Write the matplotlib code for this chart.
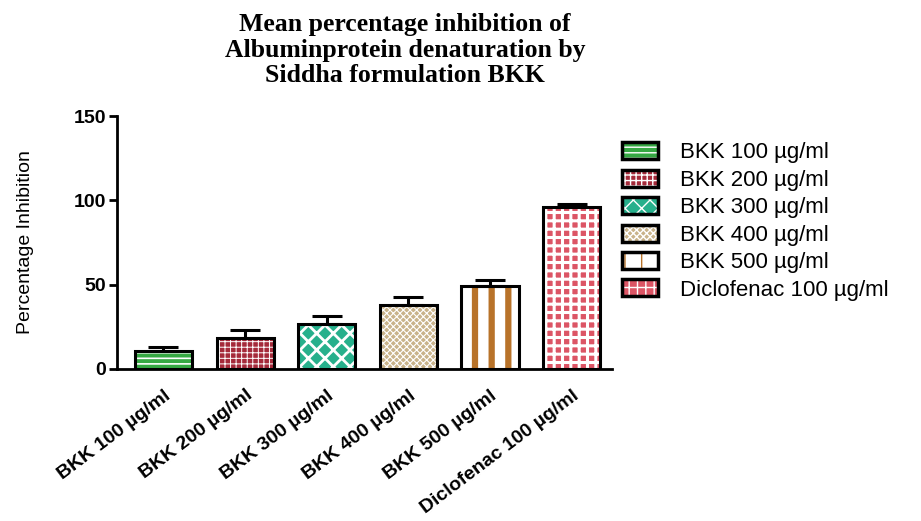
import numpy as np
import matplotlib

matplotlib.use("Agg")
import matplotlib.pyplot as plt
from matplotlib.patches import Rectangle
from matplotlib.legend_handler import HandlerTuple

groups = ["BKK 100 µg/ml", "BKK 200 µg/ml", "BKK 300 µg/ml",
          "BKK 400 µg/ml", "BKK 500 µg/ml", "Diclofenac 100 µg/ml"]
mean_inhibition = [10.7, 18.4, 26.7, 38.0, 49.2, 96.0]
sem_inhibition = [2.3, 4.6, 4.7, 4.7, 3.6, 1.8]
yticks = [0, 50, 100, 150]

# fill colour, hatch colour, hatch pattern, hatch width
styles = [
    ("#36a843", "white", "---", 1.2),
    ("#a52a3a", "white", "+++", 0.7),
    ("#27b08c", "white", "xx", 2.0),
    ("#c9b38a", "white", "xxxxx", 0.8),
    ("white", "#b8732a", "|", 4.5),
    ("#dc5565", "white", "++", 2.2),
]

plt.rcParams["font.family"] = ["Liberation Sans", "DejaVu Sans"]

fig = plt.figure(figsize=(9.21, 5.21), dpi=100)
ax = fig.add_axes([0.127, 0.292, 0.538, 0.485])

x = np.arange(len(groups))
width = 0.7
handles = []
for xi, m, (fc, hc, hatch, hlw) in zip(x, mean_inhibition, styles):
    with plt.rc_context({"hatch.linewidth": hlw}):
        fill = ax.bar(xi, m, width, color=fc, edgecolor=hc, hatch=hatch,
                      linewidth=0, zorder=2)[0]
        if hasattr(fill, "set_hatch_linewidth"):
            fill.set_hatch_linewidth(hlw)
        ax.bar(xi, m, width, facecolor="none", edgecolor="black",
               linewidth=2.2, zorder=3)
        h_fill = Rectangle((0, 0), 1, 1, facecolor=fc, edgecolor=hc,
                           hatch=hatch, linewidth=0)
        if hasattr(h_fill, "set_hatch_linewidth"):
            h_fill.set_hatch_linewidth(hlw)
    h_edge = Rectangle((0, 0), 1, 1, facecolor="none", edgecolor="black",
                       linewidth=2.5)
    handles.append((h_fill, h_edge))

ax.errorbar(x, mean_inhibition,
            yerr=[np.zeros(len(x)), sem_inhibition],
            fmt="none", ecolor="black", elinewidth=2.2,
            capsize=11, capthick=2.2, zorder=4)

ax.set_xlim(-0.57, 5.5)
ax.set_ylim(0, 150)
ax.set_yticks(yticks)
ax.set_xticks(x)
ax.set_xticklabels(groups, rotation=37, ha="right", rotation_mode="anchor",
                   fontsize=14, fontweight="bold")
ax.tick_params(axis="x", length=0, pad=13)
ax.tick_params(axis="y", length=6, width=2, labelsize=14, pad=2)
for lab in ax.get_yticklabels():
    lab.set_fontweight("bold")

for side in ("top", "right"):
    ax.spines[side].set_visible(False)
ax.spines["left"].set_linewidth(2)
ax.spines["bottom"].set_linewidth(2)

ax.set_ylabel("Percentage Inhibition", fontsize=14, labelpad=28)

fig.text(0.44, 0.975,
         "Mean percentage inhibition of\nAlbuminprotein denaturation by\nSiddha formulation BKK",
         ha="center", va="top", fontsize=18.5, fontweight="bold",
         family="Liberation Serif", linespacing=1.15)

fig.legend(handles, groups, handler_map={tuple: HandlerTuple(ndivide=1)},
           loc="upper left", bbox_to_anchor=(0.666, 0.744), frameon=False,
           fontsize=16, handlelength=1.6, handleheight=0.8,
           handletextpad=1.0, labelspacing=0.28, borderaxespad=0)

fig.savefig("out.png", dpi=100)
